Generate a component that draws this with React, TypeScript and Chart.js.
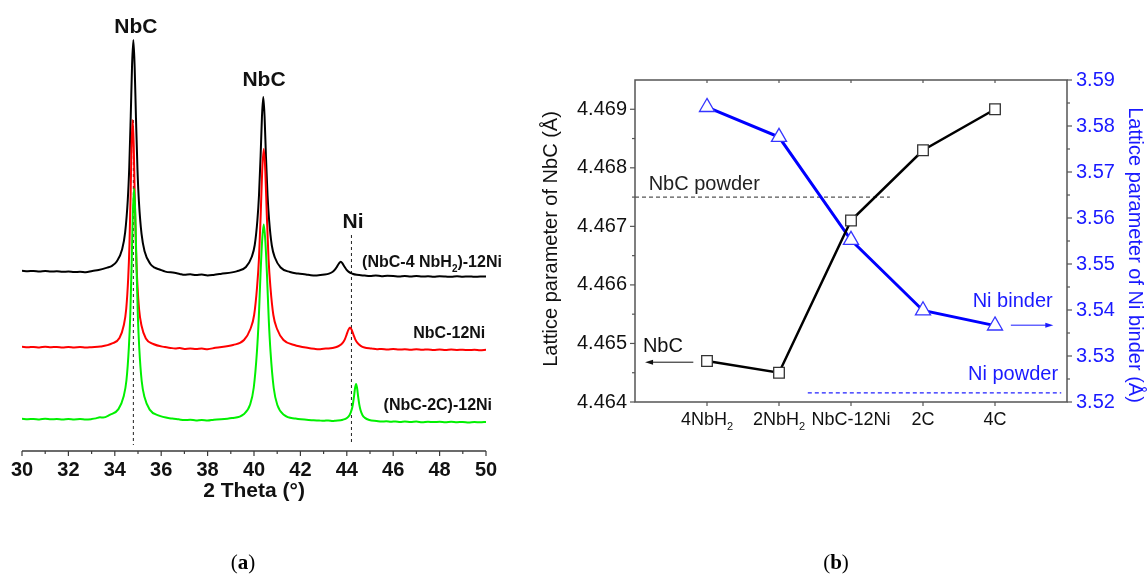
import React, { useEffect, useRef } from "react";
import { Chart, registerables } from "chart.js";

Chart.register(...registerables);

const FONT = "'Liberation Sans', Arial, Helvetica, sans-serif";
const SERIF = "'Liberation Serif', 'Times New Roman', serif";

// ---------------- Panel (a) data: XRD patterns [2theta, offset intensity] ----------------
const thetaTicks = [30, 32, 34, 36, 38, 40, 42, 44, 46, 48, 50];
const traceLabels = ["(NbC-4 NbH2)-12Ni", "NbC-12Ni", "(NbC-2C)-12Ni"];
const nbcPeak1 = 34.8;
const niPeakRef = 44.2;

const xrdNbC4NbH2: [number, number][] = [
  [30.0, 180.3], [30.25, 179.8], [30.5, 180.1], [30.75, 179.6], [31.0, 180.0], [31.25, 179.4],
  [31.5, 179.8], [31.75, 179.2], [32.0, 179.5], [32.25, 178.9], [32.5, 179.3], [32.75, 178.7],
  [33.03, 180.1], [33.3, 180.9], [33.673, 183.4], [33.88, 185.2], [34.075, 189.2], [34.317, 201.7],
  [34.446, 218.7], [34.5585, 250.7], [34.623, 283.7], [34.687, 334.7], [34.744, 385.7], [34.8, 411.0],
  [34.856, 383.8], [34.913, 332.8], [34.977, 281.8], [35.0415, 248.8], [35.154, 216.8], [35.283, 199.8],
  [35.525, 187.3], [35.72, 183.3], [35.927, 181.5], [36.18, 179.4], [36.57, 178.2], [36.8, 177.1],
  [37.0, 176.2], [37.25, 176.7], [37.5, 175.9], [37.75, 176.4], [38.0, 175.6], [38.25, 176.1],
  [38.56, 177.1], [39.25, 179.6], [39.6525, 184.0], [39.9, 194.0], [40.032, 206.0], [40.147, 231.0],
  [40.216, 256.0], [40.285, 295.0], [40.3425, 334.0], [40.4, 354.0], [40.4575, 333.5], [40.515, 294.5],
  [40.584, 255.5], [40.653, 230.5], [40.768, 205.5], [40.9, 193.5], [41.1475, 183.5], [41.55, 179.0],
  [41.9, 177.4], [42.24, 176.6], [42.45, 175.8], [42.705, 175.6], [43.05, 176.4], [43.234, 177.4],
  [43.395, 179.3], [43.487, 181.3], [43.579, 184.4], [43.66, 187.5], [43.74, 189.3], [43.82, 187.4],
  [43.901, 184.3], [43.993, 181.2], [44.085, 179.1], [44.246, 177.3], [44.43, 176.2], [44.775, 175.4],
  [45.0, 175.0], [45.25, 175.5], [45.5, 174.8], [45.75, 175.3], [46.0, 175.1], [46.25, 174.6],
  [46.5, 175.0], [46.75, 174.5], [47.0, 174.9], [47.25, 174.4], [47.5, 174.8], [47.75, 174.3],
  [48.0, 174.7], [48.25, 174.5], [48.5, 174.2], [48.75, 174.7], [49.0, 174.3], [49.25, 174.6],
  [49.5, 174.2], [49.75, 174.5], [50.0, 174.4],
];

const xrdNbC12Ni: [number, number][] = [
  [30.0, 104.2], [30.25, 103.7], [30.5, 104.1], [30.75, 103.6], [31.0, 104.3], [31.25, 103.8],
  [31.5, 104.0], [31.75, 103.5], [32.0, 104.1], [32.25, 103.6], [32.5, 103.9], [32.75, 103.4],
  [33.0, 103.8], [33.38, 104.4], [33.8845, 107.6], [34.201, 113.0], [34.39, 126.0], [34.492, 142.0],
  [34.58, 174.0], [34.631, 206.0], [34.6815, 256.0], [34.724, 306.0], [34.77, 331.0], [34.816, 305.5],
  [34.8585, 255.5], [34.909, 205.5], [34.96, 173.5], [35.048, 141.5], [35.15, 125.5], [35.339, 112.5],
  [35.6555, 107.0], [36.16, 103.9], [36.4, 103.1], [36.6, 102.5], [36.8, 102.9], [37.0, 102.1],
  [37.25, 102.6], [37.5, 102.0], [37.75, 102.4], [38.0, 101.8], [38.33, 103.2], [39.1, 106.0],
  [39.569, 111.0], [39.845, 122.0], [40.006, 136.0], [40.1325, 164.0], [40.213, 192.0], [40.288, 236.0],
  [40.353, 280.0], [40.42, 302.0], [40.487, 280.0], [40.552, 236.0], [40.627, 192.0], [40.7075, 164.0],
  [40.834, 136.0], [40.995, 122.0], [41.271, 111.0], [41.74, 106.0], [42.35, 103.0], [42.6, 102.2],
  [42.8, 101.8], [43.0, 102.3], [43.21, 102.5], [43.52, 103.7], [43.68, 105.3], [43.83, 108.3],
  [43.91, 111.4], [43.99, 116.2], [44.068, 121.1], [44.14, 123.5], [44.21, 121.1], [44.29, 116.2],
  [44.37, 111.4], [44.45, 108.3], [44.6, 105.2], [44.76, 103.5], [45.07, 102.5], [45.3, 101.7],
  [45.5, 102.1], [45.75, 101.5], [46.0, 101.9], [46.25, 101.4], [46.5, 101.8], [46.75, 101.3],
  [47.0, 101.7], [47.25, 101.2], [47.5, 101.6], [47.75, 101.1], [48.0, 101.5], [48.25, 101.0],
  [48.5, 101.4], [48.75, 101.1], [49.0, 101.3], [49.25, 100.9], [49.5, 101.3], [49.75, 100.8],
  [50.0, 101.2],
];

const xrdNbC2C: [number, number][] = [
  [30.0, 32.3], [30.25, 31.8], [30.5, 32.1], [30.75, 31.6], [31.0, 32.2], [31.25, 31.7],
  [31.5, 32.0], [31.75, 31.5], [32.0, 32.1], [32.25, 31.6], [32.5, 31.9], [32.75, 31.4],
  [33.0, 31.9], [33.185, 32.6], [33.36, 33.8], [33.5, 33.4], [33.78, 36.1], [34.157, 41.9],
  [34.38, 54.5], [34.501, 70.5], [34.606, 103.5], [34.666, 135.5], [34.725, 186.5], [34.778, 237.5],
  [34.83, 262.5], [34.882, 237.0], [34.935, 186.0], [34.994, 135.0], [35.054, 103.0], [35.159, 70.0],
  [35.28, 54.0], [35.503, 41.4], [35.876, 35.6], [36.475, 32.4], [36.75, 31.7], [37.0, 30.9],
  [37.25, 31.3], [37.5, 30.6], [37.75, 31.0], [38.0, 30.4], [38.27, 31.3], [39.05, 32.9],
  [39.54, 36.5], [39.8335, 46.5], [39.99, 63.5], [40.127, 99.5], [40.205, 132.5], [40.282, 177.5],
  [40.351, 210.5], [40.42, 226.5], [40.489, 210.0], [40.558, 177.0], [40.635, 132.0], [40.713, 99.0],
  [40.85, 63.0], [41.0065, 46.0], [41.3, 36.0], [41.79, 32.4], [42.57, 30.8], [42.8, 30.5],
  [43.0, 30.2], [43.2, 30.6], [43.4, 30.0], [43.515, 30.3], [43.83, 31.3], [44.02, 33.3],
  [44.122, 36.0], [44.21, 41.2], [44.261, 46.5], [44.3115, 54.7], [44.356, 63.0], [44.4, 67.0],
  [44.444, 62.8], [44.4885, 54.5], [44.539, 46.3], [44.59, 41.0], [44.678, 35.8], [44.78, 33.1],
  [44.97, 31.0], [45.285, 30.0], [45.5, 29.4], [45.7, 29.8], [45.9, 29.2], [46.1, 29.6],
  [46.3, 29.1], [46.5, 29.5], [46.75, 28.9], [47.0, 29.4], [47.25, 28.8], [47.5, 29.3],
  [47.75, 28.9], [48.0, 29.2], [48.25, 28.7], [48.5, 29.2], [48.75, 28.8], [49.0, 29.1],
  [49.25, 28.6], [49.5, 29.0], [49.75, 28.7], [50.0, 29.0],
];

// ---------------- Panel (b) data ----------------
const categories = ["4NbH2", "2NbH2", "NbC-12Ni", "2C", "4C"];
const nbcLattice = [4.4647, 4.4645, 4.4671, 4.4683, 4.469];
const niLattice = [3.5841, 3.5776, 3.5552, 3.5399, 3.5366];
const nbcPowder = 4.4675;
const niPowder = 3.522;
const nbcAxisTicks = [4.464, 4.465, 4.466, 4.467, 4.468, 4.469];
const niAxisTicks = [3.52, 3.53, 3.54, 3.55, 3.56, 3.57, 3.58, 3.59];

type Part = { t: string; sub?: boolean };

function splitSub(s: string): Part[] {
  const parts: Part[] = [];
  let buf = "";
  for (let i = 0; i < s.length; i++) {
    const c = s[i];
    if (/[0-9]/.test(c) && i > 0 && s[i - 1] === "H") {
      if (buf) parts.push({ t: buf });
      parts.push({ t: c, sub: true });
      buf = "";
    } else buf += c;
  }
  if (buf) parts.push({ t: buf });
  return parts;
}

function drawRich(
  ctx: CanvasRenderingContext2D,
  parts: Part[],
  x: number,
  y: number,
  align: "left" | "center" | "right",
  size: number,
  weight: string,
  color: string
) {
  const main = `${weight} ${size}px ${FONT}`;
  const subF = `${weight} ${Math.round(size * 0.62)}px ${FONT}`;
  let total = 0;
  for (const p of parts) {
    ctx.font = p.sub ? subF : main;
    total += ctx.measureText(p.t).width;
  }
  let cx = align === "left" ? x : align === "center" ? x - total / 2 : x - total;
  ctx.fillStyle = color;
  ctx.textAlign = "left";
  ctx.textBaseline = "alphabetic";
  for (const p of parts) {
    ctx.font = p.sub ? subF : main;
    ctx.fillText(p.t, cx, p.sub ? y + size * 0.3 : y);
    cx += ctx.measureText(p.t).width;
  }
}

function drawArrow(ctx: CanvasRenderingContext2D, x1: number, x2: number, y: number, color: string) {
  const dir = x2 > x1 ? 1 : -1;
  ctx.strokeStyle = color;
  ctx.fillStyle = color;
  ctx.lineWidth = 1;
  ctx.beginPath();
  ctx.moveTo(x1, y);
  ctx.lineTo(x2 - dir * 5, y);
  ctx.stroke();
  ctx.beginPath();
  ctx.moveTo(x2, y);
  ctx.lineTo(x2 - dir * 8, y - 2.5);
  ctx.lineTo(x2 - dir * 8, y + 2.5);
  ctx.closePath();
  ctx.fill();
}

const panelAPlugin = {
  id: "panelA",
  afterDatasetsDraw(chart: any) {
    const ctx: CanvasRenderingContext2D = chart.ctx;
    const xs = chart.scales.x;
    const ys = chart.scales.y;
    const area = chart.chartArea;
    ctx.save();
    ctx.strokeStyle = "#3a3a3a";
    ctx.lineWidth = 1.5;
    ctx.beginPath();
    ctx.moveTo(area.left, area.bottom);
    ctx.lineTo(area.right, area.bottom);
    ctx.stroke();
    ctx.lineWidth = 1.2;
    for (let i = 0; i < thetaTicks.length; i++) {
      const px = xs.getPixelForValue(thetaTicks[i]);
      ctx.beginPath();
      ctx.moveTo(px, area.bottom);
      ctx.lineTo(px, area.bottom + 5);
      ctx.stroke();
      if (i < thetaTicks.length - 1) {
        const pm = xs.getPixelForValue((thetaTicks[i] + thetaTicks[i + 1]) / 2);
        ctx.beginPath();
        ctx.moveTo(pm, area.bottom);
        ctx.lineTo(pm, area.bottom + 3);
        ctx.stroke();
      }
    }
    ctx.fillStyle = "#111";
    ctx.font = `bold 21px ${FONT}`;
    ctx.textAlign = "center";
    ctx.textBaseline = "alphabetic";
    ctx.fillText("2 Theta (°)", (area.left + area.right) / 2, area.bottom + 46);
    const X = (v: number) => xs.getPixelForValue(v);
    const Y = (v: number) => ys.getPixelForValue(v);
    drawRich(ctx, [{ t: "NbC" }], X(34.91), Y(418), "center", 21, "bold", "#111");
    drawRich(ctx, [{ t: "NbC" }], X(40.43), Y(365), "center", 21, "bold", "#111");
    drawRich(ctx, [{ t: "Ni" }], X(44.27), Y(223), "center", 21, "bold", "#111");
    drawRich(ctx, splitSub(traceLabels[0]), X(44.66), Y(184), "left", 16, "bold", "#111");
    drawRich(ctx, splitSub(traceLabels[1]), X(49.97), Y(112.7), "right", 16, "bold", "#111");
    drawRich(ctx, splitSub(traceLabels[2]), X(50.26), Y(41), "right", 16, "bold", "#111");
    ctx.restore();
  },
};

function PanelA() {
  const ref = useRef<HTMLCanvasElement>(null);
  useEffect(() => {
    const canvas = ref.current!;
    const mk = (d: [number, number][]) => d.map(([x, y]) => ({ x, y }));
    const chart = new Chart(canvas, {
      type: "line",
      data: {
        datasets: [
          {
            label: traceLabels[2],
            data: mk(xrdNbC2C),
            borderColor: "#00f000",
            borderWidth: 2,
            pointRadius: 0,
            cubicInterpolationMode: "monotone",
          },
          {
            label: traceLabels[1],
            data: mk(xrdNbC12Ni),
            borderColor: "#ff0000",
            borderWidth: 2,
            pointRadius: 0,
            cubicInterpolationMode: "monotone",
          },
          {
            label: traceLabels[0],
            data: mk(xrdNbC4NbH2),
            borderColor: "#000000",
            borderWidth: 2,
            pointRadius: 0,
            cubicInterpolationMode: "monotone",
          },
          {
            label: "NbC ref",
            data: [
              { x: nbcPeak1, y: 331 },
              { x: nbcPeak1, y: 6 },
            ],
            borderColor: "#222",
            borderWidth: 1,
            borderDash: [3, 3],
            pointRadius: 0,
          },
          {
            label: "Ni ref",
            data: [
              { x: niPeakRef, y: 216 },
              { x: niPeakRef, y: 6 },
            ],
            borderColor: "#222",
            borderWidth: 1,
            borderDash: [3, 3],
            pointRadius: 0,
          },
        ],
      } as any,
      options: {
        responsive: false,
        animation: false,
        layout: { padding: { top: 10, left: 22, right: 34, bottom: 0 } },
        plugins: { legend: { display: false }, tooltip: { enabled: false } },
        scales: {
          x: {
            type: "linear",
            min: 30,
            max: 50,
            border: { display: false },
            grid: { display: false, drawTicks: false },
            afterBuildTicks: (s: any) => {
              s.ticks = thetaTicks.map((v) => ({ value: v }));
            },
            ticks: {
              padding: 7,
              maxRotation: 0,
              autoSkip: false,
              color: "#111",
              font: { family: FONT, size: 20, weight: "bold" },
            },
            afterFit: (s: any) => {
              s.height = 124;
            },
          },
          y: { type: "linear", display: false, min: 0, max: 441 },
        },
      } as any,
      plugins: [panelAPlugin],
    });
    return () => chart.destroy();
  }, []);
  return (
    <canvas
      ref={ref}
      width={520}
      height={575}
      style={{ position: "absolute", left: 0, top: 0, width: 520, height: 575 }}
    />
  );
}

const panelBPlugin = {
  id: "panelB",
  beforeDatasetsDraw(chart: any) {
    const ctx: CanvasRenderingContext2D = chart.ctx;
    const a = chart.chartArea;
    const xs = chart.scales.x;
    const yl = chart.scales.y;
    const yr = chart.scales.y2;
    ctx.save();
    ctx.strokeStyle = "#555";
    ctx.lineWidth = 1.5;
    ctx.strokeRect(a.left, a.top, a.right - a.left, a.bottom - a.top);
    ctx.lineWidth = 1.2;
    const line = (x1: number, y1: number, x2: number, y2: number) => {
      ctx.beginPath();
      ctx.moveTo(x1, y1);
      ctx.lineTo(x2, y2);
      ctx.stroke();
    };
    const step = nbcAxisTicks[1] - nbcAxisTicks[0];
    for (let i = 0; i < nbcAxisTicks.length; i++) {
      const p = yl.getPixelForValue(nbcAxisTicks[i]);
      line(a.left - 5, p, a.left, p);
      const pm = yl.getPixelForValue(nbcAxisTicks[i] + step / 2);
      if (pm > a.top) line(a.left - 3, pm, a.left, pm);
    }
    for (let i = 0; i < niAxisTicks.length; i++) {
      const p = yr.getPixelForValue(niAxisTicks[i]);
      line(a.right, p, a.right + 5, p);
      if (i < niAxisTicks.length - 1) {
        const pm = yr.getPixelForValue((niAxisTicks[i] + niAxisTicks[i + 1]) / 2);
        line(a.right, pm, a.right + 3, pm);
      }
    }
    for (let i = 0; i < categories.length; i++) {
      const px = xs.getPixelForValue(i + 1);
      line(px, a.bottom, px, a.bottom + 4);
      line(px, a.top, px, a.top + 3);
    }
    ctx.restore();
  },
  afterDatasetsDraw(chart: any) {
    const ctx: CanvasRenderingContext2D = chart.ctx;
    const a = chart.chartArea;
    const xs = chart.scales.x;
    const yl = chart.scales.y;
    const yr = chart.scales.y2;
    const X = (v: number) => xs.getPixelForValue(v);
    ctx.save();
    for (let i = 0; i < categories.length; i++) {
      drawRich(ctx, splitSub(categories[i]), X(i + 1), a.bottom + 23, "center", 18, "normal", "#111");
    }
    ctx.font = `20px ${FONT}`;
    ctx.textAlign = "center";
    ctx.textBaseline = "middle";
    ctx.fillStyle = "#111";
    ctx.save();
    ctx.translate(a.left - 84, (a.top + a.bottom) / 2 - 2);
    ctx.rotate(-Math.PI / 2);
    ctx.fillText("Lattice parameter of NbC (Å)", 0, 0);
    ctx.restore();
    ctx.save();
    ctx.fillStyle = "#1a1aff";
    ctx.translate(a.right + 68, (a.top + a.bottom) / 2 + 14);
    ctx.rotate(Math.PI / 2);
    ctx.fillText("Lattice parameter of Ni binder (Å)", 0, 0);
    ctx.restore();
    drawRich(ctx, [{ t: "NbC powder" }], X(0.19), yl.getPixelForValue(4.46762), "left", 20, "normal", "#222");
    drawRich(ctx, [{ t: "NbC" }], X(0.11), yl.getPixelForValue(4.46485), "left", 20, "normal", "#111");
    drawArrow(ctx, X(0.81), X(0.14), yl.getPixelForValue(4.46468), "#111");
    drawRich(ctx, [{ t: "Ni binder" }], X(4.69), yr.getPixelForValue(3.5407), "left", 20, "normal", "#1a1aff");
    drawArrow(ctx, X(5.22), X(5.81), yr.getPixelForValue(3.5367), "#1a1aff");
    drawRich(ctx, [{ t: "Ni powder" }], X(4.625), yr.getPixelForValue(3.5248), "left", 20, "normal", "#1a1aff");
    ctx.restore();
  },
};

function PanelB() {
  const ref = useRef<HTMLCanvasElement>(null);
  useEffect(() => {
    const canvas = ref.current!;
    const chart = new Chart(canvas, {
      type: "line",
      data: {
        datasets: [
          {
            label: "NbC",
            data: nbcLattice.map((v, i) => ({ x: i + 1, y: v })),
            yAxisID: "y",
            borderColor: "#000",
            borderWidth: 2.5,
            pointStyle: "rect",
            pointRadius: 7.5,
            pointBorderColor: "#333",
            pointBorderWidth: 1.3,
            pointBackgroundColor: "#fff",
            clip: false,
          },
          {
            label: "Ni binder",
            data: niLattice.map((v, i) => ({ x: i + 1, y: v })),
            yAxisID: "y2",
            borderColor: "#0000ff",
            borderWidth: 3,
            pointStyle: "triangle",
            pointRadius: 8.7,
            pointBorderColor: "#3535ff",
            pointBorderWidth: 1.3,
            pointBackgroundColor: "#fff",
            clip: false,
          },
          {
            label: "NbC powder",
            data: [
              { x: 0, y: nbcPowder },
              { x: 3.54, y: nbcPowder },
            ],
            yAxisID: "y",
            borderColor: "#555",
            borderWidth: 1.2,
            borderDash: [4, 3],
            pointRadius: 0,
          },
          {
            label: "Ni powder",
            data: [
              { x: 2.4, y: niPowder },
              { x: 5.92, y: niPowder },
            ],
            yAxisID: "y2",
            borderColor: "#2020ff",
            borderWidth: 1.2,
            borderDash: [4, 3],
            pointRadius: 0,
          },
        ],
      } as any,
      options: {
        responsive: false,
        animation: false,
        layout: { padding: { top: 80, left: 0, right: 0, bottom: 173 } },
        plugins: { legend: { display: false }, tooltip: { enabled: false } },
        scales: {
          x: { type: "linear", min: 0, max: 6, display: false },
          y: {
            type: "linear",
            position: "left",
            min: 4.464,
            max: 4.4695,
            border: { display: false },
            grid: { display: false, drawTicks: false },
            afterBuildTicks: (s: any) => {
              s.ticks = nbcAxisTicks.map((v) => ({ value: v }));
            },
            ticks: {
              padding: 8,
              color: "#111",
              font: { family: FONT, size: 20 },
              callback: (v: any) => Number(v).toFixed(3),
            },
            afterFit: (s: any) => {
              s.width = 115;
            },
          },
          y2: {
            type: "linear",
            position: "right",
            min: 3.52,
            max: 3.59,
            border: { display: false },
            grid: { display: false, drawTicks: false },
            afterBuildTicks: (s: any) => {
              s.ticks = niAxisTicks.map((v) => ({ value: v }));
            },
            ticks: {
              padding: 9,
              color: "#1a1aff",
              font: { family: FONT, size: 20 },
              callback: (v: any) => Number(v).toFixed(2),
            },
            afterFit: (s: any) => {
              s.width = 81;
            },
          },
        },
      } as any,
      plugins: [panelBPlugin],
    });
    return () => chart.destroy();
  }, []);
  return (
    <canvas
      ref={ref}
      width={628}
      height={575}
      style={{ position: "absolute", left: 520, top: 0, width: 628, height: 575 }}
    />
  );
}

function Caption({ letter, cx }: { letter: string; cx: number }) {
  return (
    <div
      style={{
        position: "absolute",
        left: cx - 30,
        top: 549,
        width: 60,
        height: 26,
        lineHeight: "26px",
        textAlign: "center",
        fontFamily: SERIF,
        fontSize: 21,
        color: "#000",
      }}
    >
      (<b>{letter}</b>)
    </div>
  );
}

export default function App() {
  return (
    <div
      style={{
        position: "absolute",
        left: 0,
        top: 0,
        width: 1148,
        height: 575,
        background: "#fff",
        overflow: "hidden",
      }}
    >
      <PanelA />
      <PanelB />
      <Caption letter="a" cx={243} />
      <Caption letter="b" cx={836} />
    </div>
  );
}
